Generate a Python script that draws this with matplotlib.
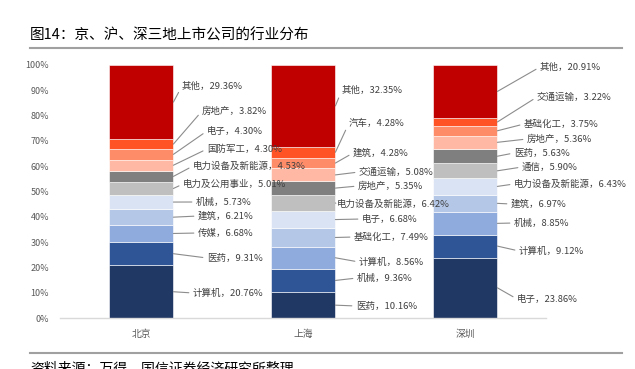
import matplotlib
matplotlib.use("Agg")
import matplotlib.pyplot as plt
import numpy as np

plt.rcParams['font.family'] = ['Noto Sans CJK SC', 'DejaVu Sans']

cities = ["北京", "上海", "深圳"]

bj_names = ["计算机", "医药", "传媒", "建筑", "机械", "电力及公用事业", "电力设备及新能源",
            "国防军工", "电子", "房地产", "其他"]
bj_vals = [20.76, 9.31, 6.68, 6.21, 5.73, 5.01, 4.53, 4.30, 4.30, 3.82, 29.36]

sh_names = ["医药", "机械", "计算机", "基础化工", "电子", "电力设备及新能源", "房地产",
            "交通运输", "建筑", "汽车", "其他"]
sh_vals = [10.16, 9.36, 8.56, 7.49, 6.68, 6.42, 5.35, 5.08, 4.28, 4.28, 32.35]

sz_names = ["电子", "计算机", "机械", "建筑", "电力设备及新能源", "通信", "医药",
            "房地产", "基础化工", "交通运输", "其他"]
sz_vals = [23.86, 9.12, 8.85, 6.97, 6.43, 5.90, 5.63, 5.36, 3.75, 3.22, 20.91]

yticks = [0, 10, 20, 30, 40, 50, 60, 70, 80, 90, 100]

colors = ["#203864", "#2F5597", "#8FAADC", "#B4C7E7", "#DAE3F3", "#BFBFBF",
          "#7F7F7F", "#FFB8A4", "#FF8C69", "#FF5326", "#C00000"]

# label text positions in image pixels (left edge x, centre y)
label_px = [
    [(193, 293), (207, 258), (198, 233), (198, 216), (196, 202), (183, 184),
     (193, 166), (207, 149), (207, 131), (202, 111), (182, 86)],
    [(356, 306), (357, 278), (359, 262), (354, 237), (362, 219), (337, 204),
     (358, 186), (359, 172), (353, 153), (349, 123), (342, 90)],
    [(517, 299), (519, 251), (514, 223), (511, 204), (514, 184), (522, 167),
     (514, 153), (527, 139), (524, 124), (537, 97), (540, 67)],
]

W, H = 635, 369
fig = plt.figure(figsize=(W / 100, H / 100), dpi=100)
ax = fig.add_axes([60 / W, (H - 318) / H, (546 - 60) / W, 253 / H])

all_names = [bj_names, sh_names, sz_names]
all_vals = [bj_vals, sh_vals, sz_vals]
bw = 0.4
x = np.arange(len(cities))
for ci in range(len(cities)):
    bottom = 0.0
    for k, v in enumerate(all_vals[ci]):
        ax.bar(x[ci], v, bottom=bottom, width=bw, color=colors[k],
               edgecolor="white", linewidth=0.4)
        mid = bottom + v / 2
        px, py = label_px[ci][k]
        ax.annotate(f"{all_names[ci][k]}，{v:.2f}%",
                    xy=(x[ci] + bw / 2, mid), xycoords="data",
                    xytext=(px, H - py), textcoords="figure pixels",
                    ha="left", va="center", fontsize=6.8, color="#404040",
                    arrowprops=dict(arrowstyle="-", color="#8C8C8C", lw=0.8,
                                    shrinkA=1, shrinkB=0, relpos=(0, 0.5)))
        bottom += v

ax.set_xlim(-0.5, 2.5)
ax.set_ylim(0, 100)
ax.set_yticks(yticks)
ax.set_yticklabels([f"{t}%" for t in yticks], fontsize=6.5, color="#595959")
ax.set_xticks(x)
ax.set_xticklabels(cities, fontsize=7, color="#595959")
ax.tick_params(axis="both", length=0)
ax.tick_params(axis="y", pad=8)
ax.tick_params(axis="x", pad=8)
for s in ["top", "right", "left"]:
    ax.spines[s].set_visible(False)
ax.spines["bottom"].set_color("#D9D9D9")
ax.spines["bottom"].set_linewidth(1.0)

fig.text(30 / W, (H - 35) / H, "图14：京、沪、深三地上市公司的行业分布",
         fontsize=10.5, color="black", ha="left", va="center")
fig.add_artist(plt.Line2D([30 / W, 622 / W], [(H - 48) / H] * 2,
                          color="#A0A0A0", lw=1.5, transform=fig.transFigure))
fig.add_artist(plt.Line2D([30 / W, 622 / W], [(H - 353) / H] * 2,
                          color="#A0A0A0", lw=1.5, transform=fig.transFigure))
fig.text(30 / W, (H - 361) / H, "资料来源：万得，国信证券经济研究所整理",
         fontsize=10, color="black", ha="left", va="top")

fig.savefig("out.png", dpi=100)
